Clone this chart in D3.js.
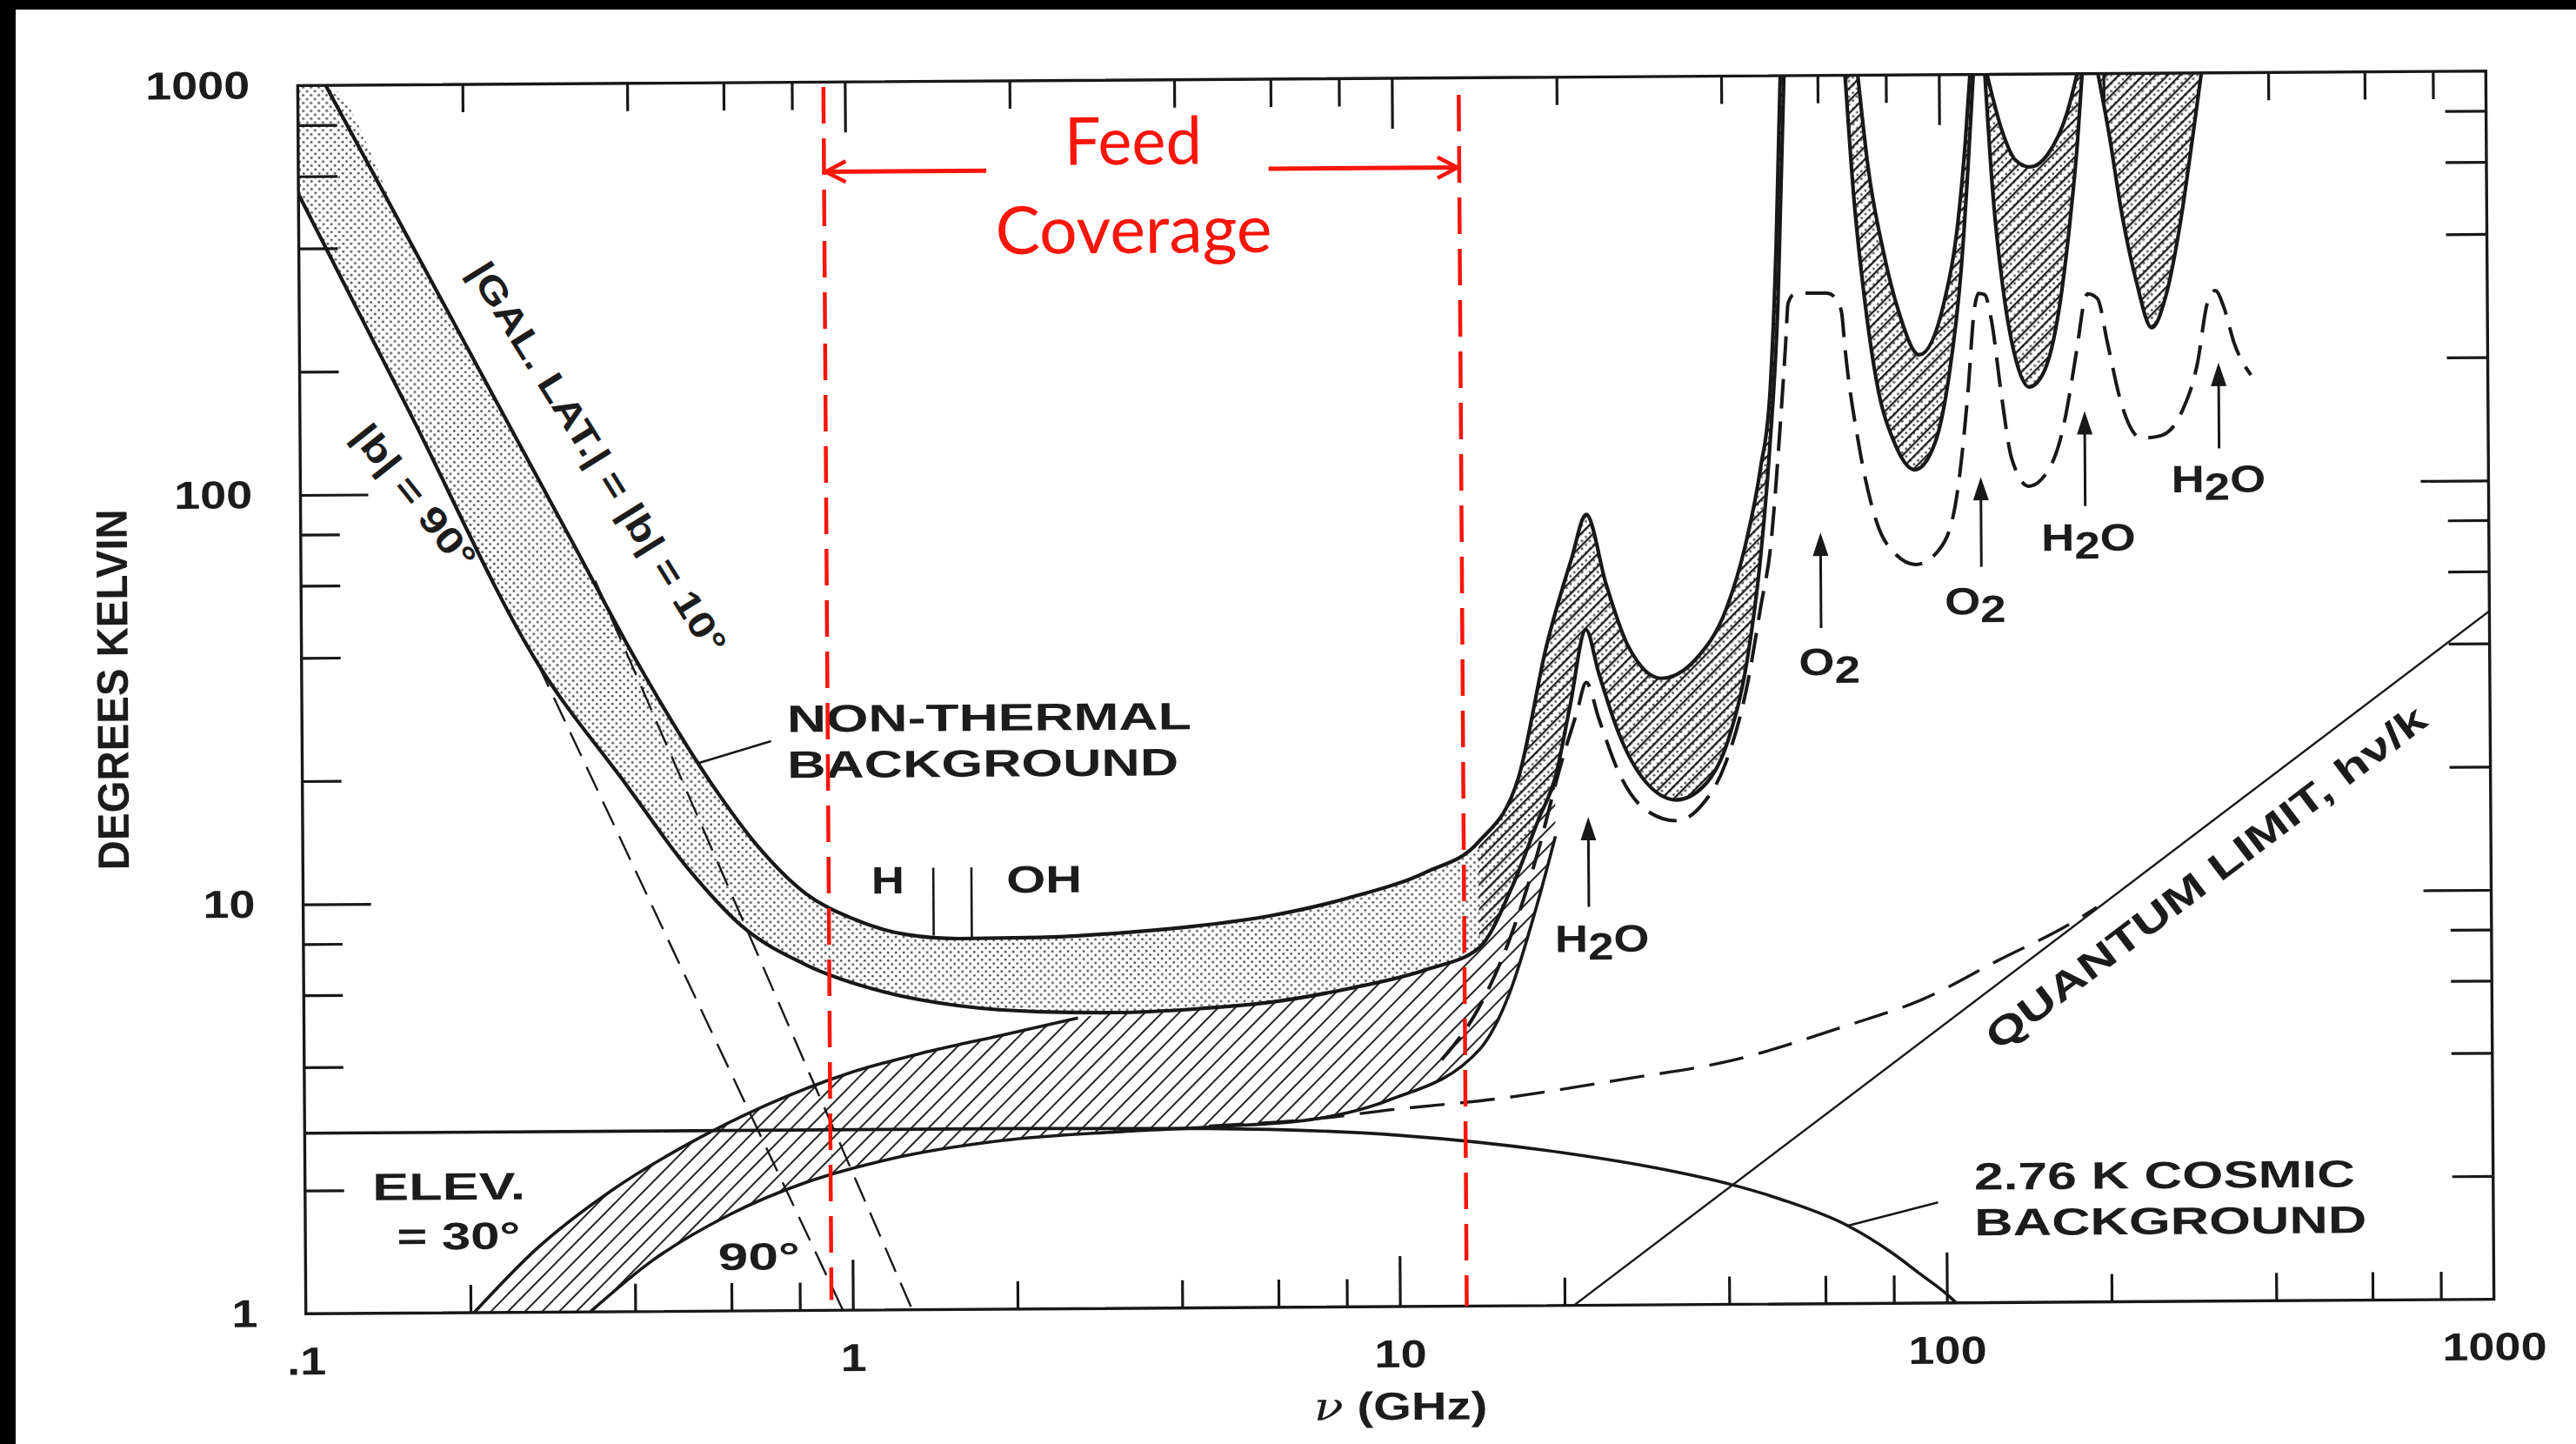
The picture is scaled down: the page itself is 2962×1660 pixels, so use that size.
<!DOCTYPE html>
<html>
<head>
<meta charset="utf-8">
<script src="https://cdn.jsdelivr.net/npm/d3@7/dist/d3.min.js"></script>
<style>
  html, body { margin: 0; padding: 0; background: #fff; }
  svg { display: block; }
  .lbl { font-family: "Liberation Sans", Arial, Helvetica, sans-serif; fill: #1c1c1c; font-weight: bold; }
  .red { font-family: "Lato", "Open Sans", sans-serif; fill: #f8150a; }
</style>
</head>
<body>
<svg id="chart" width="2962" height="1660"></svg>
<script>
// ---------- axis ticks and labels ----------
const xLabelValues = [0.1, 1, 10, 100, 1000];
const xLabelText   = [".1", "1", "10", "100", "1000"];
const yLabelValues = [1, 10, 100, 1000];
const yLabelText   = ["1", "10", "100", "1000"];
const xMinorTicks  = [0.2, 0.4, 0.6, 0.8, 2, 4, 6, 8, 20, 40, 60, 80, 200, 400, 600, 800];
const xMajorTicks  = [1, 10, 100];
const yMinorTicks  = [2, 4, 6, 8, 20, 40, 60, 80, 200, 400, 600, 800];
const yMajorTicks  = [10, 100];

// ---------- curves: [frequency (GHz), temperature (K)] ----------
// non-thermal galactic background, |b| = 10° (continues as the upper total curve)
const galHigh = [[0.1125,1000],[0.1578,427],[0.2229,179],[0.3151,75.1],[0.411,38.5],[0.560,19.4],
  [0.680,13.6],[0.828,10.45],[1.007,9.06],[1.268,8.25],[1.59,8.05],[2.22,8.08],[3.06,8.25],
  [4.24,8.55],[5.89,9.06],[8.14,9.97],[11.3,11.5],[14.1,13.6],[16.7,19.4],[18.9,41.1],[21.0,66.3],
  [22.4,85.4],[24.3,57.7],[26.5,41.2],[30.6,33.9],[35.5,37.9],[40.3,50.1],[43.8,72.1],[46.7,110],
  [48.7,168],[50.2,389],[51.3,1000]];
// |b| = 90° (continues as the lower total curve)
const galLow = [[0.1,543],[0.1578,161],[0.270,38.5],[0.3905,19.4],[0.506,12.05],[0.637,8.65],
  [0.828,6.99],[1.146,5.99],[1.59,5.51],[2.22,5.32],[3.06,5.28],[4.24,5.37],[5.89,5.57],[8.14,5.99],
  [11.3,6.65],[14.1,7.5],[16.2,10.5],[18.2,15.5],[19.5,19.4],[20.8,29],[22.3,44.7],[23.5,35],
  [25.5,25],[28.5,19],[32.5,17.1],[36.5,18.5],[40.5,24],[44,38],[46.5,65],[48.5,120],[50.5,280],[52.1,1000]];
// pure power-law extensions of the galactic background
const galSlopeLow  = [[0.270,38.5],[0.959,1.0]];
const galSlopeHigh = [[0.345,61],[1.284,1.0]];
// atmosphere, elevation 30° and 90°
const atmHigh = [[0.203,1],[0.264,1.425],[0.365,1.986],[0.507,2.58],[0.703,3.19],[0.976,3.77],
  [1.352,4.24],[1.874,4.66],[2.60,5.13]];
const atmLow = [[0.331,1],[0.430,1.33],[0.597,1.72],[0.828,2.06],[1.146,2.32],[1.874,2.58],
  [3.06,2.70],[4.67,2.77],[6.9,2.87],[9.57,3.19],[14.1,4.24],[16,5.8],[18,9.5],[19.5,14]];
// atmospheric line spectrum (dashed)
const atmDashed = [[12,4.0],[14,5.3],[16,7.8],[18,12.5],[20,21],[21.4,28],[22.3,33.2],[23.5,27],
  [25.5,20],[28.5,16.2],[32.5,15.2],[36,16.5],[40,21],[44,33],[46.5,50],[48.7,72],[50.5,126],
  [52.1,222],[52.7,278],[54,292],[56.3,294],[62,294],[64.5,285],[66,263],[66.8,219],[70.7,125],
  [75.8,82],[82.4,67.4],[89.5,63.7],[98.9,69.2],[106,89.3],[112,166],[115.4,267],[117.5,292],
  [120.5,290],[124,250],[128.9,166],[134.5,115],[144.4,98.5],[152.6,102.6],[166.1,132],[178.1,219],
  [183,275],[186,290],[193.8,282],[202,219],[213.6,156.5],[232.3,128.5],[252.7,130.4],[274.9,147.9],
  [294.8,196],[307.7,274],[318.3,294],[330,267],[344,219],[369,182.6]];
// O2 / H2O absorption windows
const win60High = [[71.1,1000],[74.1,593],[78.9,368],[84.0,263],[91.4,207],[101.6,278],[108.2,448],[111.6,684],[114,1000]];
const win60Low  = [[67.4,1000],[69.6,515],[72.5,294],[76.4,177],[82.2,126],[89.5,108.5],[97.4,126],[103.8,188],[109.2,330],[112.8,593],[115.6,1000]];
const win118High = [[122.5,1000],[130.5,723],[137.6,618],[146.6,593],[157.8,636],[171.7,809],[179,1000]];
const win118Low  = [[121.4,1000],[125.1,515],[130.5,294],[137.6,198],[145.1,172],[154.6,188],[164.6,263],[173.4,448],[179,684],[182.8,1000]];
const win183Low  = [[195.4,1000],[204.8,701],[214.5,467],[228.4,310],[243.3,239],[258.5,286],[275.2,430],[288.3,647],[302,1000]];
// 2.76 K cosmic background and the quantum limit
const cosmic = [[0.1,2.76],[2,2.76],[4.5,2.74],[10,2.62],[20,2.36],[30,2.15],[40,1.97],[50,1.8],
  [66,1.55],[80,1.32],[90,1.17],[100,1.05],[104,1.0]];
const cosmicQuantum = [[4.5,2.78],[7,2.88],[9.8,3.03],[15,3.2],[25.4,3.55],[41,3.95],[66,4.77],
  [90.8,5.51],[125,6.84],[171,8.44],[190,9.2]];
const quantumLimit = [[20.8,1],[1000,48]];
// band edges of the receiver feed
const feedEdges = [0.914, 13.25];

// ---------- layout ----------
const W = 2962, H = 1660;
const P = {x0: 347, x1: 2863, y0: 90, y1: 1502};
const x = d3.scaleLog().domain([0.1, 1000]).range([P.x0, P.x1]);
const y = d3.scaleLog().domain([1, 1000]).range([P.y1, P.y0]);

const svg = d3.select("#chart");
svg.append("rect").attr("width", W).attr("height", H).attr("fill", "#fff");
const defs = svg.append("defs");

// stipple texture
const st = defs.append("pattern").attr("id", "stipple").attr("patternUnits", "userSpaceOnUse")
  .attr("width", 9).attr("height", 9);
st.append("circle").attr("cx", 2.2).attr("cy", 2.2).attr("r", 1.45).attr("fill", "#5a5a5a");
st.append("circle").attr("cx", 6.7).attr("cy", 6.7).attr("r", 1.45).attr("fill", "#5a5a5a");
// diagonal hatching
const ht = defs.append("pattern").attr("id", "hatch").attr("patternUnits", "userSpaceOnUse")
  .attr("width", 14).attr("height", 14).attr("patternTransform", "rotate(45)");
ht.append("line").attr("x1", 1).attr("y1", 0).attr("x2", 1).attr("y2", 14)
  .attr("stroke", "#262626").attr("stroke-width", 2);
const hd = defs.append("pattern").attr("id", "hatchDense").attr("patternUnits", "userSpaceOnUse")
  .attr("width", 10).attr("height", 10).attr("patternTransform", "rotate(45)");
hd.append("line").attr("x1", 1).attr("y1", 0).attr("x2", 1).attr("y2", 10)
  .attr("stroke", "#1e1e1e").attr("stroke-width", 2.6);
defs.append("clipPath").attr("id", "plotClip").append("rect")
  .attr("x", P.x0).attr("y", P.y0).attr("width", P.x1 - P.x0).attr("height", P.y1 - P.y0);

// the whole figure sits a little askew on the page
const root = svg.append("g").attr("transform", "rotate(-0.38,1605,796)");
const plotArea = root.append("g").attr("clip-path", "url(#plotClip)");

const smooth = d3.line().x(d => x(d[0])).y(d => y(d[1])).curve(d3.curveMonotoneX);
const straight = d3.line().x(d => x(d[0])).y(d => y(d[1]));
function bandPath(top, bottom) {
  const a = smooth(top);
  const b = smooth(bottom.slice().reverse());
  return a + "L" + b.slice(1) + "Z";
}

// ---------- filled bands ----------
const galTopFill = [[0.1, 1000]].concat(galHigh);
plotArea.append("path").attr("d", bandPath(galTopFill, galLow)).attr("fill", "url(#stipple)");

const atmTop = atmHigh.concat(galLow.filter(d => d[0] > 2.7 && d[0] <= 19.5));
plotArea.append("path").attr("d", bandPath(atmTop, atmLow)).attr("fill", "url(#hatch)");

const darkTop = galHigh.filter(d => d[0] >= 14.1);
const darkBottom = galLow.filter(d => d[0] >= 14.1);
plotArea.append("path").attr("d", bandPath(darkTop, darkBottom)).attr("fill", "url(#hatchDense)");

[[win60Low, win60High], [win118Low, win118High]].forEach(([lo, hi]) => {
  const p = bandPath(lo, hi);
  plotArea.append("path").attr("d", p).attr("fill", "url(#stipple)");
  plotArea.append("path").attr("d", p).attr("fill", "url(#hatchDense)");
});
const p183 = smooth(win183Low) + "Z";
plotArea.append("path").attr("d", p183).attr("fill", "url(#stipple)");
plotArea.append("path").attr("d", p183).attr("fill", "url(#hatchDense)");

// ---------- curves ----------
const ink = "#181818";
function curve(data, w, dash, gen) {
  plotArea.append("path").attr("d", (gen || smooth)(data)).attr("fill", "none")
    .attr("stroke", ink).attr("stroke-width", w)
    .attr("stroke-dasharray", dash || null).attr("stroke-linejoin", "round");
}
curve(galHigh, 4.2);
curve(galLow, 4.2);
curve(atmHigh, 3.6);
curve(atmLow, 3.6);
curve(galSlopeLow, 2.4, "30,14", straight);
curve(galSlopeHigh, 2.4, "30,14", straight);
curve(atmDashed, 4, "34,15");
curve(win60High, 4.2); curve(win60Low, 4.2);
curve(win118High, 4.2); curve(win118Low, 4.2);
curve(win183Low, 4.2);
curve(cosmic, 3.6);
curve(cosmicQuantum, 3.4, "40,18");
curve(quantumLimit, 2.4, null, straight);

// ---------- frame and ticks ----------
function styleAxis(g) {
  g.select(".domain").remove();
  g.selectAll(".tick line").attr("stroke", ink).attr("stroke-width", 3.2);
}
root.append("g").attr("transform", `translate(0,${P.y1})`)
  .call(d3.axisBottom(x).tickValues(xMinorTicks).tickSize(-32).tickFormat("")).call(styleAxis);
root.append("g").attr("transform", `translate(0,${P.y1})`)
  .call(d3.axisBottom(x).tickValues(xMajorTicks).tickSize(-58).tickFormat("")).call(styleAxis);
root.append("g").attr("transform", `translate(0,${P.y0})`)
  .call(d3.axisTop(x).tickValues(xMinorTicks).tickSize(-32).tickFormat("")).call(styleAxis);
root.append("g").attr("transform", `translate(0,${P.y0})`)
  .call(d3.axisTop(x).tickValues(xMajorTicks).tickSize(-58).tickFormat("")).call(styleAxis);
root.append("g").attr("transform", `translate(${P.x0},0)`)
  .call(d3.axisLeft(y).tickValues(yMinorTicks).tickSize(-45).tickFormat("")).call(styleAxis);
root.append("g").attr("transform", `translate(${P.x0},0)`)
  .call(d3.axisLeft(y).tickValues(yMajorTicks).tickSize(-78).tickFormat("")).call(styleAxis);
root.append("g").attr("transform", `translate(${P.x1},0)`)
  .call(d3.axisRight(y).tickValues(yMinorTicks).tickSize(-47).tickFormat("")).call(styleAxis);
root.append("g").attr("transform", `translate(${P.x1},0)`)
  .call(d3.axisRight(y).tickValues(yMajorTicks).tickSize(-78).tickFormat("")).call(styleAxis);
root.append("rect").attr("x", P.x0).attr("y", P.y0).attr("width", P.x1 - P.x0)
  .attr("height", P.y1 - P.y0).attr("fill", "none").attr("stroke", ink).attr("stroke-width", 3.4);

// tick labels
const SX = 1.2;
const xl = root.append("g").attr("transform", `translate(0,${P.y1})`)
  .call(d3.axisBottom(x).tickValues(xLabelValues).tickSize(0).tickPadding(38)
    .tickFormat((d, i) => xLabelText[i]));
xl.select(".domain").remove();
xl.selectAll("text").attr("class", "lbl").attr("font-size", 45).attr("transform", `scale(${SX},1)`);
const yl = root.append("g").attr("transform", `translate(${P.x0},0)`)
  .call(d3.axisLeft(y).tickValues(yLabelValues).tickSize(0).tickPadding(46)
    .tickFormat((d, i) => yLabelText[i]));
yl.select(".domain").remove();
yl.selectAll("text").attr("class", "lbl").attr("font-size", 45).attr("transform", `scale(${SX},1)`);
root.selectAll(".tick text").attr("font-family", null).attr("fill", null);

// axis titles
root.append("text").attr("class", "lbl").attr("font-size", 44).attr("text-anchor", "middle")
  .attr("transform", "translate(147,783) scale(1.15,1) rotate(-90)")
  .attr("textLength", 415).attr("lengthAdjust", "spacingAndGlyphs").text("DEGREES KELVIN");
const xt = root.append("text").attr("class", "lbl").attr("font-size", 45).attr("text-anchor", "middle")
  .attr("transform", `translate(1605,1632) scale(1.25,1)`);
xt.append("tspan").attr("font-family", "'DejaVu Serif', 'Liberation Serif', serif")
  .attr("font-style", "italic").attr("font-weight", "normal").text("ν");
xt.append("tspan").text(" (GHz)");

// ---------- annotations ----------
function label(s, nu, T, o = {}) {
  const t = root.append("text").attr("class", "lbl").attr("font-size", o.size || 44)
    .attr("transform", `translate(${x(nu)},${y(T)}) rotate(${o.rot || 0})` + (o.len ? "" : ` scale(${o.sx || SX},1)`))
    .attr("text-anchor", o.anchor || "start").text(s);
  if (o.len) t.attr("textLength", o.len).attr("lengthAdjust", "spacingAndGlyphs");
  return t;
}
function chem(base, sub, tail, nu, T) {
  const t = root.append("text").attr("class", "lbl").attr("font-size", 44)
    .attr("transform", `translate(${x(nu)},${y(T)}) scale(1.2,1)`);
  t.append("tspan").text(base);
  t.append("tspan").attr("dy", 9).text(sub);
  if (tail) t.append("tspan").attr("dy", -9).text(tail);
}
function arrowUp(nu, Tfrom, Tto) {
  const px = x(nu), y0 = y(Tfrom), y1 = y(Tto);
  root.append("line").attr("x1", px).attr("x2", px).attr("y1", y0).attr("y2", y1 + 20)
    .attr("stroke", ink).attr("stroke-width", 3);
  root.append("path").attr("d", `M${px},${y1} L${px - 9},${y1 + 27} L${px + 9},${y1 + 27} Z`).attr("fill", ink);
}
function leader(a, b, w) {
  root.append("path").attr("d", straight([a, b])).attr("stroke", ink).attr("stroke-width", w || 2.6).attr("fill", "none");
}

label("|GAL. LAT.| = |b| = 10°", 0.203, 349, {rot: 58.5, len: 522, size: 42});
label("|b| = 90°", 0.1238, 139, {rot: 52, len: 200, size: 42});
label("NON-THERMAL", 0.77, 25.9, {len: 465});
label("BACKGROUND", 0.77, 20.0, {len: 450});
leader([0.53, 21.8], [0.72, 24.6]);
label("H", 1.094, 10.4, {len: 38});
label("OH", 1.93, 10.4, {len: 87});
leader([1.42, 8.2], [1.42, 12.0]);
leader([1.667, 8.1], [1.667, 12.0]);
label("ELEV.", 0.1328, 1.89, {len: 176});
label("= 30°", 0.147, 1.43, {len: 142});
label("90°", 0.568, 1.26, {len: 94});
label("QUANTUM LIMIT, hν/k", 124.8, 4.1, {rot: -36.8, len: 623});
label("2.76 K COSMIC", 112.5, 1.89, {len: 438});
label("BACKGROUND", 112.5, 1.46, {len: 451});
leader([66.1, 1.55], [96.6, 1.76]);

arrowUp(22.4, 9.4, 15.6);   chem("H", "2", "O", 19.4, 7.30);
arrowUp(60.0, 44.7, 76.5);  chem("O", "2", "", 54.6, 34.3);
arrowUp(118, 62.7, 104);    chem("O", "2", "", 101, 48.0);
arrowUp(183, 87.9, 150);    chem("H", "2", "O", 152, 68.4);
arrowUp(322, 121, 196);     chem("H", "2", "O", 263, 94.6);

// ---------- feed coverage overlay ----------
const red = "#f8150a";
const feedTop = [973, 909];
const feedBottom = [1.06, 1.0];
feedEdges.forEach((nu, i) => {
  root.append("line").attr("x1", x(nu)).attr("x2", x(nu)).attr("y1", y(feedTop[i])).attr("y2", y(feedBottom[i]))
    .attr("stroke", red).attr("stroke-width", 4.5).attr("stroke-dasharray", "42,17");
});
const arrowT = 604;
const ay = y(arrowT);
root.append("line").attr("x1", x(feedEdges[0])).attr("x2", x(1.81)).attr("y1", ay).attr("y2", ay)
  .attr("stroke", red).attr("stroke-width", 5);
root.append("path").attr("d", `M${x(feedEdges[0]) + 25},${ay - 12} L${x(feedEdges[0]) + 2},${ay} L${x(feedEdges[0]) + 25},${ay + 12}`)
  .attr("stroke", red).attr("stroke-width", 4.5).attr("fill", "none");
root.append("line").attr("x1", x(5.94)).attr("x2", x(feedEdges[1])).attr("y1", ay).attr("y2", ay)
  .attr("stroke", red).attr("stroke-width", 5);
root.append("path").attr("d", `M${x(feedEdges[1]) - 25},${ay - 12} L${x(feedEdges[1]) - 2},${ay} L${x(feedEdges[1]) - 25},${ay + 12}`)
  .attr("stroke", red).attr("stroke-width", 4.5).attr("fill", "none");
root.append("text").attr("class", "red").attr("font-size", 76).attr("text-anchor", "middle")
  .attr("x", x(3.36)).attr("y", y(622)).attr("textLength", 158).attr("lengthAdjust", "spacingAndGlyphs").text("Feed");
root.append("text").attr("class", "red").attr("font-size", 76).attr("text-anchor", "middle")
  .attr("x", x(3.36)).attr("y", y(378)).attr("textLength", 318).attr("lengthAdjust", "spacingAndGlyphs").text("Coverage");

// ---------- page edges ----------
svg.append("rect").attr("x", 0).attr("y", 0).attr("width", W).attr("height", 11).attr("fill", "#000");
svg.append("rect").attr("x", 0).attr("y", 0).attr("width", 18).attr("height", H).attr("fill", "#000");
</script>
</body>
</html>
